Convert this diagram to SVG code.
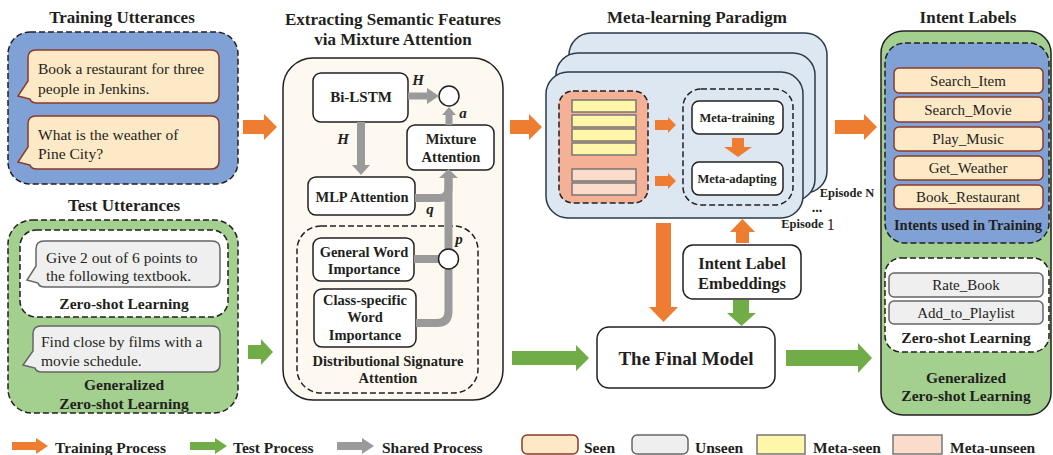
<svg xmlns="http://www.w3.org/2000/svg" width="1053" height="455" viewBox="0 0 1053 455">
<style>
text{font-family:"Liberation Serif","Times New Roman",serif;fill:#231f20}
.t{font-size:17px;font-weight:bold;text-anchor:middle;dominant-baseline:central}
.b{font-size:15.5px;dominant-baseline:central}
.lb{font-size:14.5px;font-weight:bold;text-anchor:middle;dominant-baseline:central}
.lg{font-size:15.5px;font-weight:bold;dominant-baseline:central}
.bar{font-size:15px;text-anchor:middle;dominant-baseline:central}
.it{font-size:15px;font-weight:bold;font-style:italic;dominant-baseline:central}
.dash{stroke:#231f20;stroke-width:1.5;stroke-dasharray:6 3}
.box{fill:#fff;stroke:#231f20;stroke-width:1.5}
.seen{fill:#fde9c6;stroke:#8b3a2a;stroke-width:1.5}
.unseen{fill:#efefef;stroke:#666;stroke-width:1.5}
.card{fill:#dde7f2;stroke:#2b3a4a;stroke-width:1.5}
.o{fill:#ef7d31}
.g{fill:#70ad47}
.gr{fill:#9a9a9a}
.gl{fill:none;stroke:#9a9a9a;stroke-width:8}
</style>

<!-- Training Utterances -->
<g id="training-utterances">
<text class="t" x="122" y="17">Training Utterances</text>
<rect x="8" y="32" width="230" height="152" rx="22" fill="#7fa1d5" class="dash"/>
<path class="seen" d="M36,50 H211 Q219,50 219,58 V95 Q219,103 211,103 H37 Q31,103 30,99 L18,96 L28,81 V58 Q28,50 36,50 Z"/>
<text class="b" x="38" y="68">Book a restaurant for three</text>
<text class="b" x="38" y="88">people in Jenkins.</text>
<path class="seen" d="M36,116 H211 Q219,116 219,124 V161 Q219,169 211,169 H37 Q31,169 30,165 L18,162 L28,147 V124 Q28,116 36,116 Z"/>
<text class="b" x="38" y="134">What is the weather of</text>
<text class="b" x="38" y="153">Pine City?</text>
</g>

<!-- Test Utterances -->
<g id="test-utterances">
<text class="t" x="124" y="205">Test Utterances</text>
<rect x="8" y="220" width="230" height="193" rx="24" fill="#a4d08f" class="dash"/>
<rect x="20" y="230" width="208" height="87" rx="16" fill="#fff" class="dash"/>
<path class="unseen" d="M44,241 H212 Q220,241 220,249 V279 Q220,287 212,287 H45 Q39,287 38,283 L27,280 L36,266 V249 Q36,241 44,241 Z"/>
<text class="b" x="46" y="257">Give 2 out of 6 points to</text>
<text class="b" x="46" y="275">the following textbook.</text>
<text class="lg" x="124" y="303" text-anchor="middle">Zero-shot Learning</text>
<path class="unseen" d="M41,326 H212 Q220,326 220,334 V364 Q220,372 212,372 H42 Q36,372 35,368 L23,365 L33,351 V334 Q33,326 41,326 Z"/>
<text class="b" x="41" y="341">Find close by films with a</text>
<text class="b" x="41" y="360">movie schedule.</text>
<text class="lg" x="124" y="384" text-anchor="middle">Generalized</text>
<text class="lg" x="124" y="403" text-anchor="middle">Zero-shot Learning</text>
</g>

<!-- Mixture attention -->
<g id="mixture-attention-panel">
<text class="t" x="393" y="19">Extracting Semantic Features</text>
<text class="t" x="393" y="39">via Mixture Attention</text>
<rect x="283" y="58" width="220" height="342" rx="30" fill="#fdf9f0" stroke="#231f20" stroke-width="1.5"/>
<rect x="297" y="226" width="181" height="167" rx="24" fill="none" class="dash"/>
<text class="lb" x="388" y="361">Distributional Signature</text>
<text class="lb" x="388" y="378">Attention</text>
</g>
<g id="bi-lstm"><rect class="box" x="313" y="73" width="95" height="49" rx="8"/><text class="lb" x="361" y="97" style="font-size:15px">Bi-LSTM</text></g>
<g id="mixture-attention"><rect class="box" x="407" y="125" width="87" height="45" rx="8"/><text class="lb" x="451" y="139">Mixture</text><text class="lb" x="451" y="157">Attention</text></g>
<g id="mlp-attention"><rect class="box" x="308" y="177" width="107" height="38" rx="8"/><text class="lb" x="362" y="197">MLP Attention</text></g>
<g id="general-word-importance"><rect class="box" x="313" y="238" width="101" height="43" rx="8"/><text class="lb" x="364" y="252">General Word</text><text class="lb" x="364" y="269">Importance</text></g>
<g id="class-specific"><rect class="box" x="314" y="289" width="102" height="58" rx="8"/><text class="lb" x="365" y="300">Class-specific</text><text class="lb" x="365" y="317">Word</text><text class="lb" x="365" y="335">Importance</text></g>

<!-- Meta-learning -->
<g id="meta-learning">
<text class="t" x="697" y="17">Meta-learning Paradigm</text>
<rect class="card" x="569" y="33" width="258" height="160" rx="22"/>
<rect class="card" x="556" y="53" width="259" height="148" rx="22"/>
<rect class="card" x="546" y="72" width="257" height="146" rx="22"/>
<rect x="559" y="91" width="89" height="112" rx="14" fill="#f4b196" class="dash"/>
<g fill="#fff6a8" stroke="#777" stroke-width="1.5">
<rect x="572" y="100" width="64" height="12"/>
<rect x="572" y="115" width="64" height="12"/>
<rect x="572" y="129" width="64" height="12"/>
<rect x="572" y="143" width="64" height="12"/>
</g>
<g fill="#fbdccb" stroke="#777" stroke-width="1.5">
<rect x="572" y="169" width="64" height="12"/>
<rect x="572" y="183" width="64" height="12"/>
</g>
<rect x="683" y="89" width="110" height="116" rx="18" fill="none" class="dash"/>
<text x="847" y="193" font-size="12.5" font-weight="bold" text-anchor="middle" dominant-baseline="central">Episode N</text>
<text x="817" y="207" font-size="14" font-weight="bold" text-anchor="middle" dominant-baseline="central">...</text>
<text x="808" y="224" font-size="12.5" font-weight="bold" text-anchor="middle" dominant-baseline="central">Episode <tspan font-size="16" font-weight="normal">1</tspan></text>
</g>
<g id="meta-training"><rect class="box" x="692" y="101" width="91" height="33" rx="7"/><text class="lb" x="737" y="118" style="font-size:12.5px">Meta-training</text></g>
<g id="meta-adapting"><rect class="box" x="692" y="162" width="91" height="33" rx="7"/><text class="lb" x="737" y="179" style="font-size:12.5px">Meta-adapting</text></g>
<g id="intent-label-embeddings"><rect class="box" x="683" y="245" width="118" height="54" rx="10"/><text class="lb" x="742" y="263" style="font-size:16.5px">Intent Label</text><text class="lb" x="742" y="283" style="font-size:16.5px">Embeddings</text></g>
<g id="final-model"><rect class="box" x="597" y="327" width="178" height="61" rx="12"/><text class="lb" x="686" y="358" style="font-size:19px">The Final Model</text></g>

<!-- Intent Labels -->
<g id="intent-labels">
<text class="t" x="968" y="17">Intent Labels</text>
<rect x="881" y="31" width="170" height="384" rx="22" fill="#a4d08f" stroke="#231f20" stroke-width="1.5"/>
<rect x="885" y="43" width="164" height="200" rx="20" fill="#7fa1d5" class="dash"/>
<rect class="seen" x="894" y="68" width="149" height="25" rx="5"/><text class="bar" x="968" y="81">Search_Item</text>
<rect class="seen" x="894" y="97" width="149" height="25" rx="5"/><text class="bar" x="968" y="110">Search_Movie</text>
<rect class="seen" x="894" y="127" width="149" height="24" rx="5"/><text class="bar" x="968" y="139">Play_Music</text>
<rect class="seen" x="894" y="156" width="149" height="24" rx="5"/><text class="bar" x="968" y="168">Get_Weather</text>
<rect class="seen" x="894" y="185" width="149" height="24" rx="5"/><text class="bar" x="968" y="197">Book_Restaurant</text>
<text class="lb" x="968" y="225">Intents used in Training</text>
<rect x="885" y="258" width="164" height="94" rx="16" fill="#fff" class="dash"/>
<rect class="unseen" x="889" y="273" width="154" height="24" rx="5"/><text class="bar" x="966" y="285">Rate_Book</text>
<rect class="unseen" x="889" y="301" width="154" height="23" rx="5"/><text class="bar" x="966" y="313">Add_to_Playlist</text>
<text class="lg" x="966" y="337" text-anchor="middle">Zero-shot Learning</text>
<text class="lg" x="966" y="377" text-anchor="middle">Generalized</text>
<text class="lg" x="966" y="395" text-anchor="middle">Zero-shot Learning</text>
</g>

<!-- Connectors -->
<g id="connectors">
<!-- orange -->
<polygon class="o" points="243,120 264,120 264,114 277,127 264,140 264,134 243,134"/>
<polygon class="o" points="510,120 529,120 529,114 542,127 529,140 529,134 510,134"/>
<polygon class="o" points="835,120 864,120 864,114 877,127 864,140 864,134 835,134"/>
<polygon class="o" points="655,120 668,120 668,117 676,125 668,133 668,130 655,130"/>
<polygon class="o" points="655,176 668,176 668,173 676,181 668,189 668,186 655,186"/>
<polygon class="o" points="732,138 744,138 744,147 752,147 738,157 724,147 732,147"/>
<polygon class="o" points="656,223 671,223 671,307 678,307 663.5,322 649,307 656,307"/>
<polygon class="o" points="736,243 749,243 749,232 755,232 742.5,219 730,232 736,232"/>
<!-- green -->
<polygon class="g" points="248,345 261,345 261,339 273,352 261,365 261,359 248,359"/>
<polygon class="g" points="512,351 576,351 576,345 589,358 576,371 576,365 512,365"/>
<polygon class="g" points="786,350 858,350 858,343 872,358 858,373 858,366 786,366"/>
<polygon class="g" points="733,300 749,300 749,313 756,313 741.5,326 727,313 733,313"/>
<!-- gray -->
<circle cx="449" cy="96" r="10" fill="#fff" stroke="#231f20" stroke-width="1.5"/>
<polygon class="gr" points="408,92.5 427,92.5 427,88 439,96 427,104 427,99.5 408,99.5"/>
<polygon class="gr" points="445.5,125 452.5,125 452.5,115 456,115 449,107 442,115 445.5,115"/>
<polygon class="gr" points="357,122 365,122 365,165 370,165 361,175 352,165 357,165"/>
<path class="gl" d="M415,198 H439 Q448.5,198 448.5,188 V177"/>
<line class="gl" x1="448.5" y1="249" x2="448.5" y2="177"/>
<polygon class="gr" points="439,178 458,178 448.5,169"/>
<line class="gl" x1="414" y1="259" x2="440" y2="259"/>
<path class="gl" d="M416,323 H437 Q448.5,323 448.5,311 V268"/>
<circle cx="448.5" cy="259" r="10" fill="#fff" stroke="#231f20" stroke-width="1.5"/>
<text class="it" x="418" y="80" text-anchor="middle">H</text>
<text class="it" x="343" y="139" text-anchor="middle">H</text>
<text class="it" x="463" y="113" text-anchor="middle">a</text>
<text class="it" x="430" y="209" text-anchor="middle">q</text>
<text class="it" x="459" y="239" text-anchor="middle">p</text>
</g>

<!-- Legend -->
<g id="legend">
<polygon class="o" points="12,442 36,442 36,438 48,446 36,454 36,450 12,450"/>
<text class="lg" x="55" y="447">Training Process</text>
<polygon class="g" points="190,442 215,442 215,438 227,446 215,454 215,450 190,450"/>
<text class="lg" x="233" y="447">Test Process</text>
<polygon class="gr" points="337,442 362,442 362,438 374,446 362,454 362,450 337,450"/>
<text class="lg" x="382" y="447">Shared Process</text>
<rect class="seen" x="522" y="435" width="56" height="19" rx="5"/>
<text class="lg" x="584" y="447">Seen</text>
<rect class="unseen" x="632" y="435" width="56" height="19" rx="5"/>
<text class="lg" x="695" y="447">Unseen</text>
<rect x="757" y="435" width="48" height="19" fill="#fff6a8" stroke="#777" stroke-width="1.5"/>
<text class="lg" x="813" y="447">Meta-seen</text>
<rect x="893" y="435" width="49" height="19" fill="#fbdccb" stroke="#777" stroke-width="1.5"/>
<text class="lg" x="950" y="447">Meta-unseen</text>
</g>
</svg>
